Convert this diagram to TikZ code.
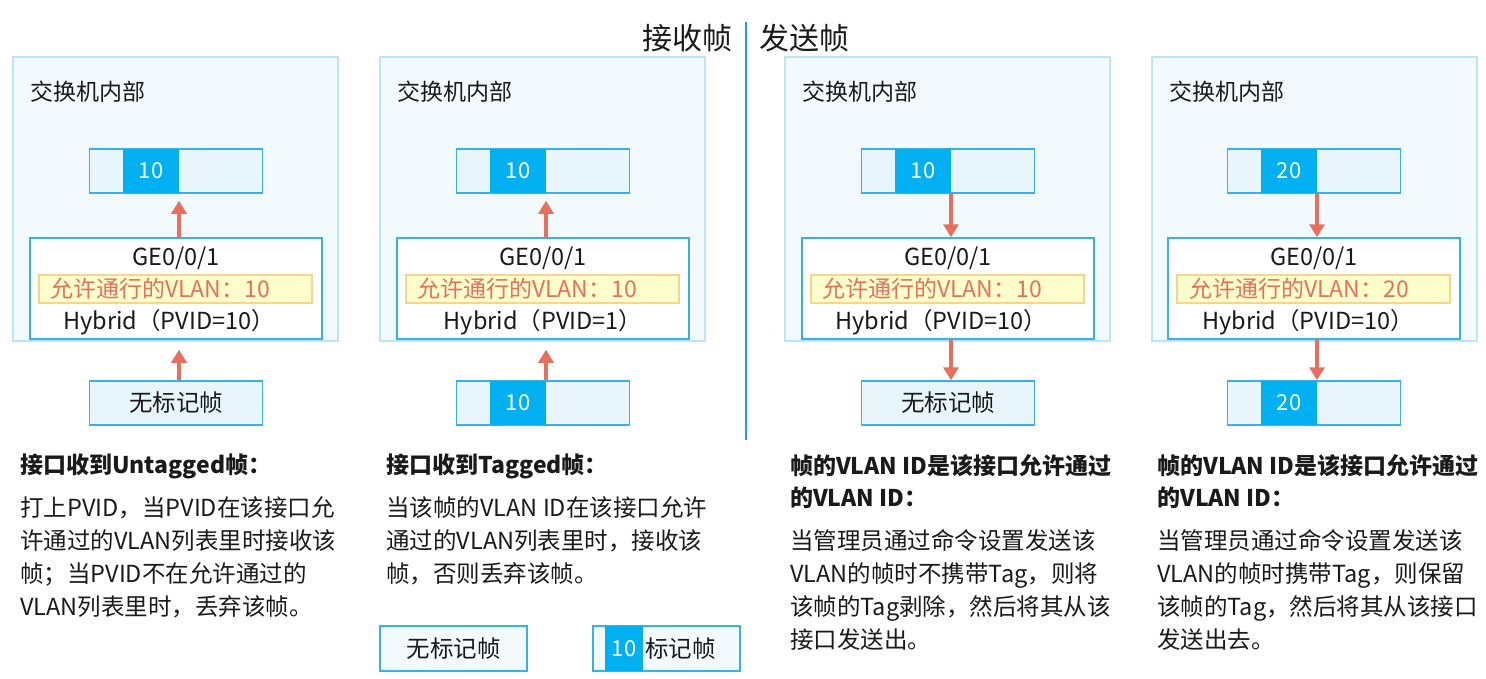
\documentclass[tikz,border=0pt]{standalone}
\usepackage{fontspec}
\setmainfont{Noto Sans CJK SC}
\usetikzlibrary{arrows.meta}
\definecolor{swpanel}{HTML}{F3FAFD}
\definecolor{swpanelline}{HTML}{BDE5F5}
\definecolor{framefill}{HTML}{E8F5FB}
\definecolor{frameline}{HTML}{35B3E8}
\definecolor{tagblue}{HTML}{00B0F0}
\definecolor{stripfill}{HTML}{FFFFCC}
\definecolor{stripline}{HTML}{FAD38C}
\definecolor{flowred}{HTML}{E86F5E}
\definecolor{divline}{HTML}{1BA1E2}
\definecolor{txt}{HTML}{1A1A1A}

\begin{document}
\begin{tikzpicture}[
    x=1pt, y=-1pt,
    font=\fontsize{23.5}{27}\selectfont, text=txt,
    panel/.style={
        draw=swpanelline, fill=swpanel, line width=1.5pt,
        minimum width=325pt, minimum height=284pt, inner sep=0pt,
    },
    boxtitle/.style={anchor=west, font=\fontsize{23}{26}\selectfont, inner sep=0pt},
    frame/.style={
        draw=frameline, fill=framefill, line width=1.5pt,
        minimum width=173pt, minimum height=44pt, inner sep=0pt,
    },
    tag/.style={fill=tagblue, text=white, font=\fontsize{22}{26}\selectfont,
        minimum width=56pt, minimum height=44pt, inner sep=0pt},
    port/.style={
        draw=frameline, fill=white, line width=1.5pt,
        minimum width=292pt, minimum height=101pt, inner sep=0pt,
    },
    strip/.style={
        draw=stripline, fill=stripfill, line width=1.2pt,
        minimum width=273pt, minimum height=28pt, inner sep=0pt,
    },
    allow/.style={anchor=west, text=flowred, font=\fontsize{23}{26}\selectfont, inner sep=0pt},
    flow/.style={draw=flowred, line width=4.5pt, -{Triangle[length=13pt, width=15pt]}},
    heading/.style={anchor=north west, align=left, font=\fontsize{23}{32}\selectfont\bfseries, inner sep=0pt},
    body/.style={anchor=north west, align=left, font=\fontsize{23.5}{33}\selectfont, inner sep=0pt},
    divider/.style={draw=divline, line width=1.2pt},
]
\useasboundingbox (0,0) rectangle (1486,678);

% ===== Header: receive | send =====
\node[anchor=east, font=\fontsize{30}{34}\selectfont, inner sep=0pt] (rxhead) at (733,38) {接收帧};
\node[anchor=west, font=\fontsize{30}{34}\selectfont, inner sep=0pt] (txhead) at (759,38) {发送帧};
\coordinate (divtop) at (746,22);
\coordinate (divbot) at (746,440);
\draw[divider] (divtop) -- (divbot);

% ===== Panel 1: untagged frame received =====
\node[panel] (sw1) at (175.5,199) {};
\node[boxtitle] (sw1title) at (30,92) {交换机内部};
\node[frame] (vlan1in) at (176,171) {};
\node[tag] (vlan1intag) at (151,171) {10};
\node[port] (ge1) at (176,288.5) {};
\node (ge1name) at (176,258) {GE0/0/1};
\node[strip] (ge1strip) at (175.5,289) {};
\node[allow] (ge1allow) at (50,289) {允许通行的VLAN：10};
\node (ge1mode) at (169,322) {Hybrid（PVID=10）};
\node[frame] (frame1) at (176,403) {无标记帧};

\draw[flow, shorten >=10pt] ([xshift=3pt]frame1.north) -- ([xshift=3pt]ge1.south);
\draw[flow, shorten >=7pt] ([xshift=3pt]ge1.north) -- ([xshift=3pt]vlan1in.south);

\node[heading] (rule1) at (20,454) {接口收到Untagged帧：};
\node[body] (note1) at (20,496) {打上PVID，当PVID在该接口允\\许通过的VLAN列表里时接收该\\帧；当PVID不在允许通过的\\VLAN列表里时，丢弃该帧。};

% ===== Panel 2: tagged frame received =====
\node[panel] (sw2) at (542.5,199) {};
\node[boxtitle] (sw2title) at (397,92) {交换机内部};
\node[frame] (vlan2in) at (543,171) {};
\node[tag] (vlan2intag) at (518,171) {10};
\node[port] (ge2) at (543,288.5) {};
\node (ge2name) at (543,258) {GE0/0/1};
\node[strip] (ge2strip) at (542.5,289) {};
\node[allow] (ge2allow) at (417,289) {允许通行的VLAN：10};
\node (ge2mode) at (543,322) {Hybrid（PVID=1）};
\node[frame] (frame2) at (543,403) {};
\node[tag] (frame2tag) at (518,403) {10};

\draw[flow, shorten >=10pt] ([xshift=3pt]frame2.north) -- ([xshift=3pt]ge2.south);
\draw[flow, shorten >=7pt] ([xshift=3pt]ge2.north) -- ([xshift=3pt]vlan2in.south);

\node[heading] (rule2) at (386,454) {接口收到Tagged帧：};
\node[body] (note2) at (386,496) {当该帧的VLAN ID在该接口允许\\通过的VLAN列表里时，接收该\\帧，否则丢弃该帧。};

% ===== Panel 3: sent without tag =====
\node[panel] (sw3) at (947.5,199) {};
\node[boxtitle] (sw3title) at (802,92) {交换机内部};
\node[frame] (vlan3in) at (948,171) {};
\node[tag] (vlan3intag) at (923,171) {10};
\node[port] (ge3) at (948,288.5) {};
\node (ge3name) at (948,258) {GE0/0/1};
\node[strip] (ge3strip) at (947.5,289) {};
\node[allow] (ge3allow) at (822,289) {允许通行的VLAN：10};
\node (ge3mode) at (941,322) {Hybrid（PVID=10）};
\node[frame] (frame3) at (948,403) {无标记帧};

\draw[flow] ([xshift=3pt]vlan3in.south) -- ([xshift=3pt]ge3.north);
\draw[flow] ([xshift=3pt]ge3.south) -- ([xshift=3pt]frame3.north);

\node[heading] (rule3) at (790,454) {帧的VLAN ID是该接口允许通过\\的VLAN ID：};
\node[body] (note3) at (790,529) {当管理员通过命令设置发送该\\VLAN的帧时不携带Tag，则将\\该帧的Tag剥除，然后将其从该\\接口发送出。};

% ===== Panel 4: sent with tag =====
\node[panel] (sw4) at (1314.5,199) {};
\node[boxtitle] (sw4title) at (1169,92) {交换机内部};
\node[frame] (vlan4in) at (1314,171) {};
\node[tag] (vlan4intag) at (1289,171) {20};
\node[port] (ge4) at (1314,288.5) {};
\node (ge4name) at (1314,258) {GE0/0/1};
\node[strip] (ge4strip) at (1313.5,289) {};
\node[allow] (ge4allow) at (1189,289) {允许通行的VLAN：20};
\node (ge4mode) at (1308,322) {Hybrid（PVID=10）};
\node[frame] (frame4) at (1314,403) {};
\node[tag] (frame4tag) at (1289,403) {20};

\draw[flow] ([xshift=3pt]vlan4in.south) -- ([xshift=3pt]ge4.north);
\draw[flow] ([xshift=3pt]ge4.south) -- ([xshift=3pt]frame4.north);

\node[heading] (rule4) at (1157,454) {帧的VLAN ID是该接口允许通过\\的VLAN ID：};
\node[body] (note4) at (1157,529) {当管理员通过命令设置发送该\\VLAN的帧时携带Tag，则保留\\该帧的Tag，然后将其从该接口\\发送出去。};

% --- Legend ---
\node[frame, fill=swpanel, minimum width=147pt, minimum height=45pt] (keyuntag) at (453.5,648.5) {无标记帧};
\node[frame, fill=swpanel, minimum width=147pt, minimum height=45pt] (keytag) at (666.5,648.5) {};
\node[tag, minimum width=38pt, minimum height=45pt] (keytagid) at (624,648.5) {10};
\node[anchor=west, inner sep=0pt] (keytagtxt) at (645,648.5) {标记帧};

\end{tikzpicture}
\end{document}
